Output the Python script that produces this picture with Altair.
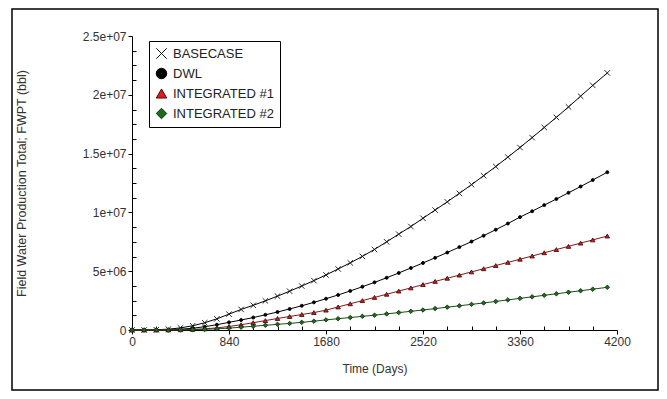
import altair as alt
import pandas as pd

days = [0, 105, 210, 315, 420, 525, 630, 735, 840, 945, 1050, 1155, 1260, 1365, 1470,
        1575, 1680, 1785, 1890, 1995, 2100, 2205, 2310, 2415, 2520, 2625, 2730, 2835,
        2940, 3045, 3150, 3255, 3360, 3465, 3570, 3675, 3780, 3885, 3990, 4116]

# cumulative water production, millions of bbl
basecase = [0, 0, 0.02, 0.07, 0.18, 0.36, 0.62, 0.95, 1.35, 1.75, 2.10, 2.48, 2.88, 3.30, 3.74,
            4.20, 4.68, 5.19, 5.71, 6.26, 6.85, 7.50, 8.15, 8.80, 9.50, 10.20, 10.90, 11.62,
            12.36, 13.12, 13.90, 14.70, 15.52, 16.36, 17.22, 18.08, 18.97, 19.88, 20.80, 21.86]
dwl = [0, 0, 0.01, 0.03, 0.07, 0.15, 0.28, 0.45, 0.65, 0.85, 1.06, 1.29, 1.53, 1.79, 2.06,
       2.35, 2.66, 2.98, 3.32, 3.68, 4.05, 4.44, 4.85, 5.27, 5.70, 6.14, 6.59, 7.05,
       7.52, 8.02, 8.53, 9.05, 9.60, 10.10, 10.62, 11.14, 11.67, 12.20, 12.75, 13.42]
integrated1 = [0, 0, 0, 0.005, 0.02, 0.05, 0.10, 0.18, 0.30, 0.45, 0.62, 0.80, 0.98, 1.15, 1.32,
               1.48, 1.69, 1.96, 2.23, 2.50, 2.77, 3.04, 3.31, 3.58, 3.86, 4.13, 4.40, 4.67,
               4.94, 5.21, 5.48, 5.75, 6.02, 6.29, 6.57, 6.84, 7.11, 7.39, 7.66, 7.99]
integrated2 = [0, 0, 0, 0, 0.01, 0.03, 0.06, 0.10, 0.16, 0.24, 0.32, 0.40, 0.48, 0.56, 0.65,
               0.75, 0.86, 0.96, 1.06, 1.16, 1.26, 1.37, 1.48, 1.59, 1.70, 1.82, 1.94, 2.06,
               2.18, 2.30, 2.43, 2.56, 2.69, 2.82, 2.95, 3.08, 3.21, 3.34, 3.47, 3.63]

series_names = ["BASECASE", "DWL", "INTEGRATED #1", "INTEGRATED #2"]
series_values = [basecase, dwl, integrated1, integrated2]
line_colors = ["#000000", "#000000", "#7a1c1c", "#1d4a1d"]
fill_colors = ["#000000", "#000000", "#e41a1a", "#1e6b1e"]
stroke_colors = ["#111111", "#000000", "#3b1010", "#123312"]
shapes = ["M-1,-1L1,1M-1,1L1,-1", "circle", "triangle-up", "diamond"]
marker_sizes = [30, 9, 20, 20]

x_major = [0, 840, 1680, 2520, 3360, 4200]
x_minor = [210, 420, 630, 1050, 1260, 1470, 1890, 2100, 2310, 2730, 2940, 3150,
           3570, 3780, 3990]
y_major = [0, 5e6, 1e7, 1.5e7, 2e7, 2.5e7]
y_minor = [1.25e6, 2.5e6, 3.75e6, 6.25e6, 7.5e6, 8.75e6, 1.125e7, 1.25e7, 1.375e7,
           1.625e7, 1.75e7, 1.875e7, 2.125e7, 2.25e7, 2.375e7]

rows = []
for name, vals in zip(series_names, series_values):
    for d, v in zip(days, vals):
        rows.append({"series": name, "day": d, "value": v * 1e6})
df = pd.DataFrame(rows)

FONT = "Liberation Sans"
W, H = 485, 294

xscale = alt.Scale(domain=[0, 4200], nice=False, zero=False)
yscale = alt.Scale(domain=[0, 2.5e7], nice=False)

x_axis = alt.Axis(values=x_major, format="d", title="Time (Days)", grid=False, tickSize=4,
                  labelFont=FONT, labelFontSize=12, labelColor="#333333",
                  titleFont=FONT, titleFontSize=12, titleFontWeight="normal",
                  titleColor="#333333", titlePadding=16, domainColor="#000000",
                  tickColor="#000000", labelFlush=False)
y_axis = alt.Axis(values=y_major, title="Field Water Production Total; FWPT (bbl)",
                  grid=False, tickSize=4,
                  labelExpr="datum.value == 0 ? '0' : replace(format(datum.value, '.2~e'), 'e+', 'e+0')",
                  labelFont=FONT, labelFontSize=12, labelColor="#333333",
                  titleFont=FONT, titleFontSize=12.5, titleFontWeight="normal",
                  titleColor="#333333", titlePadding=54, domainColor="#000000",
                  tickColor="#000000", labelFlush=False)

legend = alt.Legend(
    title=None, orient="none", legendX=17, legendY=5,
    strokeColor="#000000", fillColor="#ffffff", padding=6, rowPadding=5,
    labelFont=FONT, labelFontSize=13, labelColor="#222222",
    symbolSize=110, symbolStrokeWidth=1, labelOffset=5,
)

X = alt.X("day:Q", scale=xscale, axis=x_axis)
Y = alt.Y("value:Q", scale=yscale, axis=y_axis)

base = alt.Chart(df)

line_layers = [
    base.transform_filter(alt.datum.series == name).mark_line(strokeWidth=1, color=lc)
    .encode(x=X, y=Y)
    for name, lc in zip(series_names, line_colors)
]

point_layers = [
    base.transform_filter(alt.datum.series == name).mark_point(
        size=ms, strokeWidth=0.9, opacity=1, fillOpacity=1
    ).encode(
        x=X, y=Y,
        fill=alt.Fill("series:N", scale=alt.Scale(domain=series_names, range=fill_colors),
                      legend=legend),
        stroke=alt.Stroke("series:N", scale=alt.Scale(domain=series_names, range=stroke_colors),
                          legend=legend),
        shape=alt.Shape("series:N", scale=alt.Scale(domain=series_names, range=shapes),
                        legend=legend),
    )
    for name, ms in zip(series_names, marker_sizes)
]

minor = base.mark_point(opacity=0).encode(
    x=alt.X("day:Q", scale=xscale,
            axis=alt.Axis(values=x_minor, orient="top", offset=-H, labels=False,
                          domain=False, grid=False, tickSize=4, tickColor="#000000",
                          title=None)),
    y=alt.Y("value:Q", scale=yscale,
            axis=alt.Axis(values=y_minor, orient="right", offset=-W, labels=False,
                          domain=False, grid=False, tickSize=4, tickColor="#000000",
                          title=None)),
)

frame = alt.Chart(pd.DataFrame({"k": [0]})).mark_rect(
    fill="transparent", stroke="#000000", strokeWidth=1.5
).encode(
    x=alt.value(-120), x2=alt.value(526), y=alt.value(-27), y2=alt.value(354)
)

main = alt.layer(*line_layers, *point_layers)

chart = alt.layer(frame, minor, main).resolve_axis(
    x="independent", y="independent"
).properties(
    width=W, height=H,
    autosize=alt.AutoSizeParams(type="none"),
    padding={"left": 124, "top": 28, "right": 42, "bottom": 61},
    background="white",
).configure_view(stroke=None)

chart.save("out.html", embed_options={"renderer": "svg", "actions": False})
